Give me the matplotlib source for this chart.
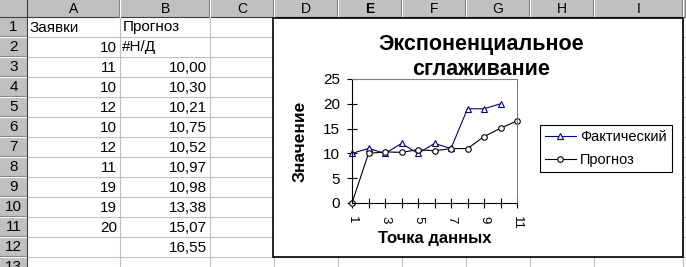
import matplotlib
matplotlib.use("Agg")
import matplotlib.pyplot as plt
from matplotlib.patches import Rectangle

plt.rcParams['font.family'] = ['Liberation Sans', 'DejaVu Sans']

# --- spreadsheet contents ---
col_names = ['A', 'B', 'C', 'D', 'E', 'F', 'G', 'H', 'I']
head_a = 'Заявки'
head_b = 'Прогноз'
na_text = '#Н/Д'
orders = [10, 11, 10, 12, 10, 12, 11, 19, 19, 20]
forecast = [None, 10.00, 10.30, 10.21, 10.75, 10.52, 10.97, 10.98, 13.38, 15.07, 16.55]

# --- chart ---
title = 'Экспоненциальное\nсглаживание'
points = list(range(1, 12))
x_tick_labels = ['1', '', '3', '', '5', '', '7', '', '9', '', '11']
y_ticks = [0, 5, 10, 15, 20, 25]
series_names = ['Фактический', 'Прогноз']

# layout in pixels
W, H = 686, 267
col_edges = [27, 120, 210, 274, 338, 402, 466, 530, 594, 683, 686]
head_h = 17
row_h = 20
grey = '#c0c0c0'
fs = 11

fig = plt.figure(figsize=(W / 100, H / 100), dpi=100)
bg = fig.add_axes([0, 0, 1, 1])
bg.set_xlim(0, W)
bg.set_ylim(H, 0)
bg.axis('off')

# cell grid
for x in col_edges[1:]:
    bg.plot([x, x], [head_h, H], color=grey, lw=0.8)
for r in range(1, 13):
    y = head_h + r * row_h
    bg.plot([col_edges[0], W], [y, y], color=grey, lw=0.8)

# column headers
bg.add_patch(Rectangle((0, 0), W, head_h, fc=grey, ec='none'))
bg.plot([0, W], [head_h - 0.5, head_h - 0.5], color='#404040', lw=0.8)
for i, x in enumerate(col_edges[1:]):
    bg.plot([x - 1, x - 1], [0, head_h], color='#808080', lw=0.8)
    bg.plot([x, x], [0, head_h], color='white', lw=0.8)
for i, name in enumerate(col_names):
    cx = (col_edges[i] + col_edges[i + 1]) / 2
    bg.text(cx, head_h / 2 + 0.5, name, ha='center', va='center', fontsize=10,
            fontweight='bold' if name == 'E' else 'normal')

# row headers (row 13 is cut off by the window edge)
bg.add_patch(Rectangle((0, head_h), col_edges[0], H - head_h, fc=grey, ec='none'))
bg.plot([col_edges[0] - 0.5] * 2, [0, H], color='#404040', lw=0.8)
for r in range(1, 14):
    y = head_h + r * row_h
    bg.plot([0, col_edges[0] - 1], [y - 1, y - 1], color='#808080', lw=0.8)
    bg.plot([0, col_edges[0] - 1], [y, y], color='white', lw=0.8)
    bg.text(col_edges[0] / 2, y - row_h / 2, str(r), ha='center', va='center', fontsize=fs)

# cells
def row_y(r):
    return head_h + (r - 1) * row_h + row_h / 2 + 0.5

bg.text(col_edges[0] + 3, row_y(1), head_a, ha='left', va='center', fontsize=fs)
bg.text(col_edges[1] + 3, row_y(1), head_b, ha='left', va='center', fontsize=fs)
for i, v in enumerate(orders):
    bg.text(col_edges[1] - 3, row_y(i + 2), str(v), ha='right', va='center', fontsize=fs)
for i, v in enumerate(forecast):
    if v is None:
        bg.text(col_edges[1] + 2, row_y(i + 2), na_text, ha='left', va='center', fontsize=fs)
    else:
        s = f'{v:.2f}'.replace('.', ',')
        bg.text(col_edges[2] - 3, row_y(i + 2), s, ha='right', va='center', fontsize=fs)

# chart object
bg.add_patch(Rectangle((273, 18), 410, 239, fc='white', ec='black', lw=1.2, zorder=5))
bg.text(481, 57, title, ha='center', va='center', fontsize=15.5, fontweight='bold',
        linespacing=1.25, zorder=6)

ax = fig.add_axes([352 / W, 1 - 203 / H, 165 / W, 124 / H])
ax.set_facecolor('white')
actual_x = points[:len(orders)]
fc_values = [0 if v is None else v for v in forecast]
ax.plot(actual_x, orders, color='#000080', lw=0.8, marker='^', ms=4.5,
        mfc='white', mec='#000080', mew=0.8, clip_on=False, label=series_names[0])
ax.plot(points, fc_values, color='black', lw=0.8, marker='o', ms=4,
        mfc='white', mec='black', mew=0.8, clip_on=False, label=series_names[1])

ax.set_xlim(points[0], points[-1])
ax.set_ylim(y_ticks[0], y_ticks[-1])
ax.set_xticks(points)
ax.set_xticklabels(x_tick_labels, rotation=-90, fontsize=9.5)
ax.set_yticks(y_ticks)
ax.set_yticklabels([str(t) for t in y_ticks], fontsize=fs)
ax.tick_params(direction='inout', length=7, width=0.8, pad=5)
ax.tick_params(axis='x', pad=6)
for side in ['left', 'bottom']:
    ax.spines[side].set_color('black')
    ax.spines[side].set_linewidth(0.8)
for side in ['top', 'right']:
    ax.spines[side].set_color('#808080')
    ax.spines[side].set_linewidth(0.8)

ax.set_ylabel('Значение', fontsize=12.5, fontweight='bold')
ax.yaxis.set_label_coords(-0.27, 0.5)
ax.set_xlabel('Точка данных', fontsize=12, fontweight='bold')
ax.xaxis.set_label_coords(0.5, -0.225)

leg = ax.legend(loc='upper left', bbox_to_anchor=(540 / W, 1 - 125 / H),
                bbox_transform=fig.transFigure, fontsize=10.5, frameon=True,
                fancybox=False, edgecolor='black', framealpha=1,
                handlelength=2.1, handletextpad=0.3, labelspacing=0.6,
                borderpad=0.35, borderaxespad=0)
leg.get_frame().set_linewidth(0.8)

fig.savefig('out.png', dpi=100)
